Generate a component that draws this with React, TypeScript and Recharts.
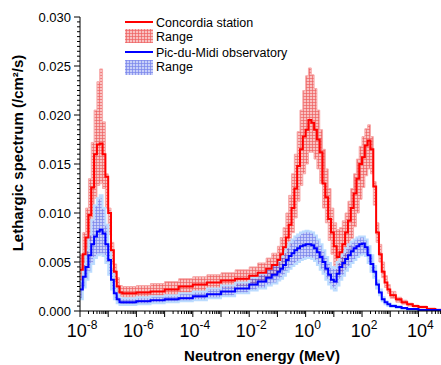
import { ComposedChart, Line, Area, XAxis, YAxis } from 'recharts';

// bin left edges, log10(E / MeV)
const LOG_E = [
  -8.0, -7.9, -7.8, -7.7, -7.6, -7.5, -7.4, -7.3, -7.2, -7.1, -7.0, -6.9, -6.8, -6.7, -6.6, -6.5,
  -6.0, -5.5, -5.0, -4.5, -4.0, -3.5, -3.0, -2.5, -2.0,
  -1.7, -1.4, -1.2,
  -1.0, -0.9, -0.8, -0.7, -0.6, -0.5, -0.4, -0.3, -0.2, -0.1,
  0.0, 0.1, 0.2, 0.3, 0.4, 0.5, 0.6, 0.7, 0.8, 0.9,
  1.0, 1.1, 1.2, 1.3, 1.4, 1.5, 1.6, 1.7, 1.8, 1.9,
  2.0, 2.1, 2.2, 2.3, 2.4, 2.5, 2.6, 2.7, 2.8, 2.9,
  3.0, 3.2, 3.4, 3.6, 3.8, 4.0, 4.3, 4.6, 4.8,
];

const CONCORDIA = [
  0.0042, 0.0058, 0.0075, 0.0098, 0.0126, 0.016, 0.017, 0.0171, 0.016, 0.0137, 0.01, 0.0062, 0.004, 0.0025, 0.0019, 0.0018,
  0.0019, 0.002, 0.0022, 0.0025, 0.0027, 0.0029, 0.0031, 0.0033, 0.0036,
  0.0039, 0.0043, 0.0047,
  0.0052, 0.0058, 0.0065, 0.0075, 0.0088, 0.0105, 0.0125, 0.0148, 0.0165, 0.0178,
  0.0185, 0.0195, 0.0192, 0.0185, 0.0175, 0.0162, 0.013, 0.0116, 0.0094, 0.008,
  0.0066, 0.0055, 0.006, 0.0068, 0.008, 0.0092, 0.0105, 0.012, 0.0135, 0.015,
  0.0157, 0.0169, 0.0174, 0.0165, 0.0127, 0.008, 0.0058, 0.004, 0.0029, 0.0022,
  0.0016, 0.0012, 0.0009, 0.0007, 0.0005, 0.0004, 0.0002, 0.0001, 0.0001,
];
const CONCORDIA_HI = [
  0.0058, 0.008, 0.0105, 0.0135, 0.0172, 0.0205, 0.0234, 0.0247, 0.0193, 0.014, 0.0105, 0.007, 0.0048, 0.0034, 0.0026, 0.0025,
  0.0026, 0.0028, 0.003, 0.0033, 0.0035, 0.0037, 0.0039, 0.0042, 0.0045,
  0.0049, 0.0054, 0.0059,
  0.0066, 0.0075, 0.0085, 0.01, 0.0118, 0.014, 0.016, 0.0183, 0.0205, 0.0225,
  0.024, 0.0248, 0.0241, 0.0227, 0.0205, 0.0185, 0.0165, 0.0145, 0.0125, 0.0105,
  0.009, 0.0083, 0.0085, 0.0092, 0.01, 0.0112, 0.0125, 0.014, 0.0155, 0.0168,
  0.0178, 0.0186, 0.019, 0.0178, 0.0132, 0.009, 0.0068, 0.005, 0.0036, 0.0027,
  0.002, 0.0014, 0.0011, 0.0008, 0.0006, 0.0005, 0.0003, 0.0002, 0.0001,
];
const CONCORDIA_LO = [
  0.003, 0.0042, 0.0055, 0.0072, 0.0092, 0.0115, 0.0128, 0.013, 0.0125, 0.0105, 0.0078, 0.0048, 0.003, 0.0019, 0.0015, 0.0014,
  0.0014, 0.0015, 0.0016, 0.0018, 0.002, 0.0022, 0.0024, 0.0026, 0.0028,
  0.0031, 0.0034, 0.0037,
  0.004, 0.0045, 0.005, 0.0058, 0.0067, 0.008, 0.0095, 0.0112, 0.0128, 0.014,
  0.015, 0.0162, 0.0162, 0.0155, 0.0145, 0.013, 0.0105, 0.009, 0.0072, 0.0058,
  0.0045, 0.0038, 0.004, 0.0046, 0.0054, 0.0063, 0.0074, 0.0086, 0.01, 0.0114,
  0.0126, 0.0138, 0.0145, 0.014, 0.0108, 0.007, 0.005, 0.0034, 0.0024, 0.0018,
  0.0013, 0.0009, 0.0007, 0.0005, 0.0004, 0.0003, 0.0001, 0.0001, 0.0,
];

const PIC_DU_MIDI = [
  0.0022, 0.0035, 0.0045, 0.0057, 0.0068, 0.0076, 0.0081, 0.0083, 0.0079, 0.0068, 0.0052, 0.0032, 0.0018, 0.0012, 0.0009, 0.0009,
  0.001, 0.0011, 0.0012, 0.0013, 0.0015, 0.0017, 0.002, 0.0023, 0.0027,
  0.003, 0.0034, 0.0037,
  0.004, 0.0043, 0.0047, 0.0052, 0.0056, 0.0059, 0.0062, 0.0064, 0.0066, 0.0067,
  0.0068, 0.0068, 0.0067, 0.0064, 0.006, 0.0055, 0.005, 0.0043, 0.0037, 0.0032,
  0.003, 0.0038, 0.0045, 0.0049, 0.0053, 0.0057, 0.0061, 0.0064, 0.0066, 0.0068,
  0.0069, 0.0065, 0.0057, 0.0048, 0.004, 0.0027, 0.0019, 0.0012, 0.0009, 0.0007,
  0.0005, 0.0004, 0.0003, 0.0002, 0.0002, 0.0001, 0.0001, 0.0001, 0.0001,
];
const PIC_DU_MIDI_HI = [
  0.003, 0.0048, 0.0062, 0.0078, 0.0093, 0.0108, 0.0115, 0.0118, 0.0105, 0.0088, 0.0068, 0.0043, 0.0025, 0.0017, 0.0013, 0.0013,
  0.0014, 0.0015, 0.0016, 0.0018, 0.002, 0.0023, 0.0026, 0.0029, 0.0034,
  0.0038, 0.0043, 0.0047,
  0.0051, 0.0055, 0.006, 0.0065, 0.007, 0.0073, 0.0076, 0.0078, 0.008, 0.0081,
  0.0082, 0.0081, 0.008, 0.0077, 0.0073, 0.0068, 0.0062, 0.0055, 0.0049, 0.0045,
  0.0044, 0.005, 0.0056, 0.006, 0.0064, 0.0068, 0.0071, 0.0073, 0.0075, 0.0076,
  0.0076, 0.0073, 0.0066, 0.0057, 0.0046, 0.0031, 0.0022, 0.0014, 0.001, 0.0008,
  0.0006, 0.0005, 0.0003, 0.0002, 0.0002, 0.0001, 0.0001, 0.0001, 0.0001,
];
const PIC_DU_MIDI_LO = [
  0.0012, 0.0024, 0.0032, 0.004, 0.0048, 0.0054, 0.0057, 0.0058, 0.0056, 0.0049, 0.0037, 0.0022, 0.0012, 0.0008, 0.0006, 0.0006,
  0.0007, 0.0008, 0.0009, 0.001, 0.0011, 0.0013, 0.0015, 0.0018, 0.0021,
  0.0023, 0.0026, 0.0028,
  0.0031, 0.0033, 0.0036, 0.004, 0.0043, 0.0046, 0.0048, 0.005, 0.0052, 0.0053,
  0.0054, 0.0054, 0.0053, 0.0051, 0.0047, 0.0042, 0.0038, 0.0032, 0.0027, 0.0023,
  0.0021, 0.0026, 0.0032, 0.0036, 0.0041, 0.0045, 0.0049, 0.0052, 0.0055, 0.0057,
  0.0058, 0.0056, 0.0049, 0.004, 0.0034, 0.0023, 0.0016, 0.001, 0.0007, 0.0005,
  0.0004, 0.0003, 0.0002, 0.0001, 0.0001, 0.0, 0.0, 0.0, 0.0,
];

const X_DOMAIN = [-8, 4.8];
const X_LABELED = [-8, -6, -4, -2, 0, 2, 4];
const Y_DOMAIN = [0, 0.03];
const Y_MAJOR_STEP = 0.005;
const Y_MINOR_STEP = 0.0005;

const FONT = '"Liberation Sans", Arial, sans-serif';

const data = LOG_E.map((e, i) => ({
  e,
  concordia: CONCORDIA[i],
  concordiaRange: [CONCORDIA_LO[i], CONCORDIA_HI[i]],
  pic: PIC_DU_MIDI[i],
  picRange: [PIC_DU_MIDI_LO[i], PIC_DU_MIDI_HI[i]],
}));

// decade ticks plus 2..9 minor ticks
const xTicks: number[] = [];
for (let d = -8; d <= 4; d++) {
  xTicks.push(d);
  for (let k = 2; k <= 9; k++) {
    const v = d + Math.log10(k);
    if (v <= X_DOMAIN[1]) xTicks.push(v);
  }
}
const yTicks: number[] = [];
for (let i = 0; i <= 60; i++) yTicks.push(+(i * Y_MINOR_STEP).toFixed(4));

function XTick({ x, y, payload }: any) {
  const v = payload.value;
  const major = Math.abs(v - Math.round(v)) < 1e-6;
  const exp = Math.round(v);
  const labeled = major && X_LABELED.includes(exp);
  return (
    <g>
      <line x1={x} x2={x} y1={y} y2={y + (major ? 6 : 3)} stroke="#000" />
      {labeled && (
        <text x={x + 2} y={y + 26} textAnchor="middle" fontSize={18} fill="#000">
          10<tspan dy={-8} fontSize={12}>{exp}</tspan>
        </text>
      )}
    </g>
  );
}

function YTick({ x, y, payload }: any) {
  const v = payload.value;
  const r = v / Y_MAJOR_STEP;
  const major = Math.abs(r - Math.round(r)) < 1e-6;
  return (
    <g>
      <line x1={x - (major ? 6 : 3)} x2={x} y1={y} y2={y} stroke="#000" />
      {major && (
        <text x={x - 9} y={y + 4.5} textAnchor="end" fontSize={13} fill="#000">
          {v.toFixed(3)}
        </text>
      )}
    </g>
  );
}

function Patterns({ prefix }: { prefix: string }) {
  return (
    <defs>
      <pattern id={`${prefix}red`} width="3" height="3" patternUnits="userSpaceOnUse">
        <rect width="3" height="3" fill="#f8b2b2" />
        <path d="M0 0.5H3M0.5 0V3" stroke="#e83a3a" strokeWidth="0.7" />
      </pattern>
      <pattern id={`${prefix}blue`} width="3" height="3" patternUnits="userSpaceOnUse">
        <rect width="3" height="3" fill="#aab6f6" />
        <path d="M0 0.5H3M0.5 0V3" stroke="#3040e0" strokeWidth="0.7" />
      </pattern>
    </defs>
  );
}

export default function App() {
  return (
    <div style={{ position: 'absolute', left: 0, top: 0, width: 441, height: 365, fontFamily: FONT, background: '#fff' }}>
      <ComposedChart width={441} height={365} data={data} margin={{ top: 17, right: 0, bottom: 0, left: 0 }}>
        <Patterns prefix="c-" />
        <XAxis
          dataKey="e"
          type="number"
          domain={X_DOMAIN}
          ticks={xTicks}
          interval={0}
          allowDataOverflow
          height={54}
          tickSize={0}
          tickMargin={0}
          tickLine={false}
          axisLine={{ stroke: '#000' }}
          tick={<XTick />}
        />
        <YAxis
          type="number"
          domain={Y_DOMAIN}
          ticks={yTicks}
          interval={0}
          allowDataOverflow
          width={80}
          tickSize={0}
          tickMargin={0}
          tickLine={false}
          axisLine={{ stroke: '#000' }}
          tick={<YTick />}
        />
        <Area
          dataKey="concordiaRange"
          type="stepAfter"
          fill="url(#c-red)"
          fillOpacity={0.8}
          stroke="#f7a8a8"
          strokeWidth={1}
          isAnimationActive={false}
        />
        <Area
          dataKey="picRange"
          type="stepAfter"
          fill="url(#c-blue)"
          fillOpacity={0.65}
          stroke="#bcdcff"
          strokeWidth={2}
          isAnimationActive={false}
        />
        <Line dataKey="concordia" type="stepAfter" stroke="#ff0000" strokeWidth={2} dot={false} activeDot={false} isAnimationActive={false} />
        <Line dataKey="pic" type="stepAfter" stroke="#0000ff" strokeWidth={2} dot={false} activeDot={false} isAnimationActive={false} />
      </ComposedChart>

      <svg width={441} height={365} style={{ position: 'absolute', left: 0, top: 0, pointerEvents: 'none' }}>
        <Patterns prefix="l-" />
        <text
          transform="translate(23, 153) rotate(-90)"
          textAnchor="middle"
          fontSize={15}
          fontWeight="bold"
          fill="#000"
        >
          Lethargic spectrum (/cm²/s)
        </text>
        <text x={262} y={361} textAnchor="middle" fontSize={15} fontWeight="bold" fill="#000">
          Neutron energy (MeV)
        </text>

        <line x1={125} x2={153} y1={22} y2={22} stroke="#ff0000" strokeWidth={2} />
        <text x={156} y={26.5} fontSize={12.5} fill="#000">Concordia station</text>
        <rect x={125} y={29} width={28} height={14} fill="url(#l-red)" fillOpacity={0.8} />
        <text x={156} y={40.5} fontSize={12.5} fill="#000">Range</text>
        <line x1={125} x2={153} y1={52} y2={52} stroke="#0000ff" strokeWidth={2} />
        <text x={156} y={56.5} fontSize={12.5} fill="#000">Pic-du-Midi observatory</text>
        <rect x={125} y={60} width={28} height={15} fill="url(#l-blue)" fillOpacity={0.65} />
        <text x={156} y={71} fontSize={12.5} fill="#000">Range</text>
      </svg>
    </div>
  );
}
